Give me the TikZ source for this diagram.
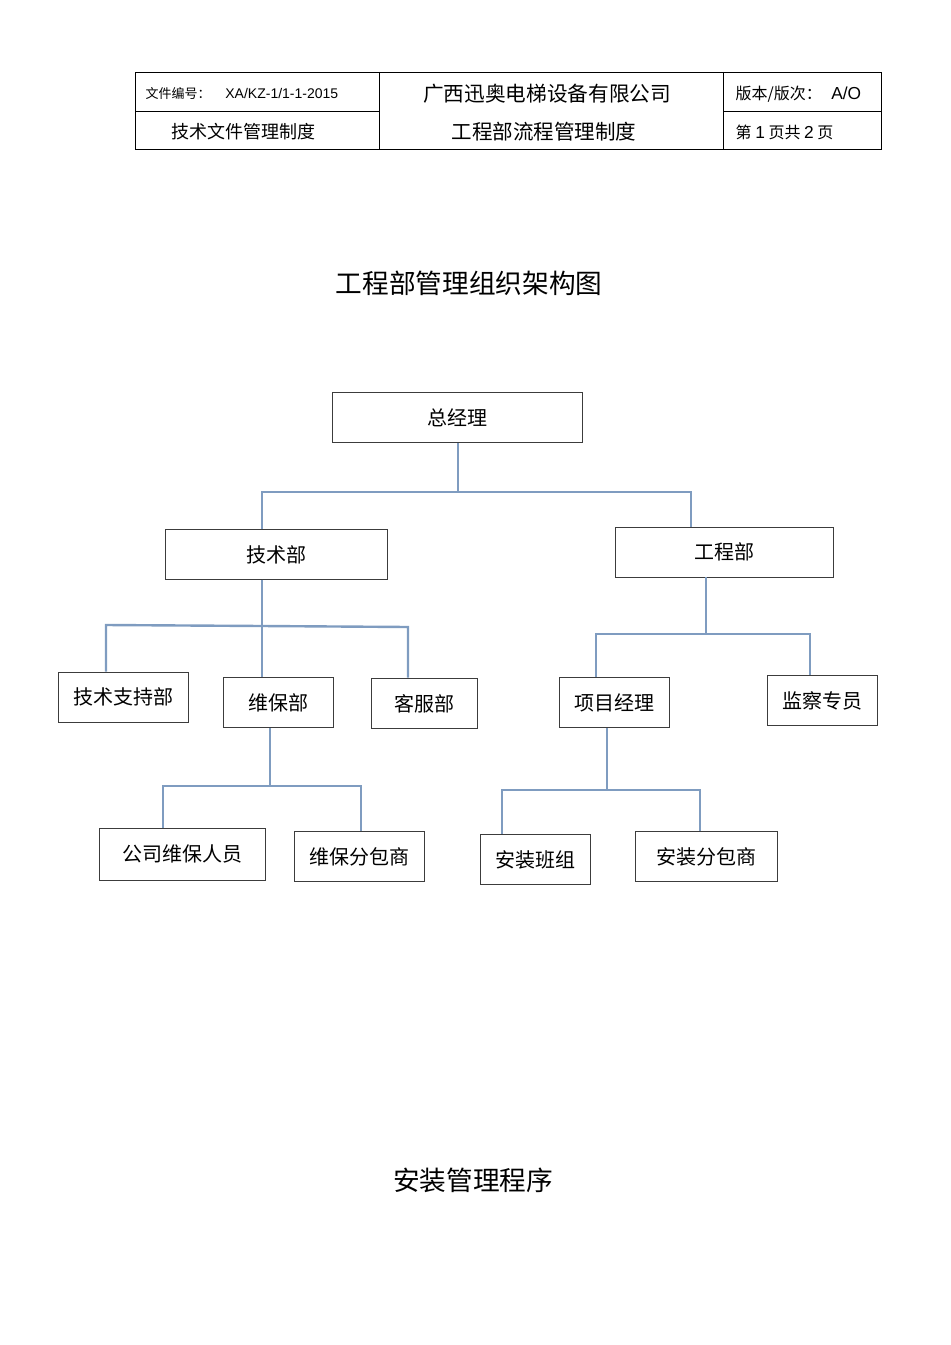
\documentclass[tikz,border=0pt]{standalone}
\usepackage{fontspec}
\setmainfont{Noto Sans CJK SC}
\newfontfamily\latinfont{Liberation Sans}
\usetikzlibrary{calc}
\definecolor{linkblue}{RGB}{127,156,192}
\definecolor{boxgray}{RGB}{60,60,60}
\tikzset{
  orgbox/.style={draw=boxgray, line width=0.7pt, inner sep=0pt, font=\fontsize{15}{18}\selectfont},
  link/.style={draw=linkblue, line width=1.8pt},
  frame/.style={black, line width=0.6pt}
}

\begin{document}
\begin{tikzpicture}[x=0.75pt,y=-0.75pt]
        \useasboundingbox (0,0) rectangle (950,1345);

        % header table
        \draw [frame] (135,72) rectangle (881,149);
        \draw [frame] (379,72) -- (379,149);
        \draw [frame] (723,72) -- (723,149);
        \draw [frame] (135,111) -- (379,111);
        \draw [frame] (723,111) -- (881,111);

        \node (docno) [anchor=west, font=\fontsize{9.75}{11}\selectfont] at (141,94) {文件编号：\hspace{11pt}{\latinfont\fontsize{10.5}{12}\selectfont XA/KZ-1/1-1-2015}};
        \node (techdoc) [font=\fontsize{13.5}{16}\selectfont] at (243,132) {技术文件管理制度};
        \node (company) [font=\fontsize{15.5}{18}\selectfont] at (547,94) {广西迅奥电梯设备有限公司};
        \node (deptdoc) [font=\fontsize{15.4}{18}\selectfont] at (544,132) {工程部流程管理制度};
        \node (version) [anchor=west, font=\fontsize{12}{14}\selectfont] at (731,94) {版本/版次：\hspace{7pt}{\latinfont\fontsize{13}{15}\selectfont A/O}};
        \node (pageno) [anchor=west, font=\fontsize{12}{14}\selectfont] at (731,132) {第 {\latinfont\fontsize{13}{15}\selectfont 1} 页共 {\latinfont\fontsize{13}{15}\selectfont 2} 页};

        % titles
        \node (title) [font=\fontsize{20}{24}\selectfont] at (469,283) {工程部管理组织架构图};
        \node (install) [font=\fontsize{20}{24}\selectfont] at (473,1180) {安装管理程序};

        % boxes
        \node (zjl)  [orgbox, minimum width=188pt, minimum height=38pt] at (457.5,417.5) {总经理};
        \node (jsb)  [orgbox, minimum width=166pt, minimum height=37pt] at (276.5,554.5) {技术部};
        \node (gcb)  [orgbox, minimum width=164pt, minimum height=37.5pt] at (724.5,552) {工程部};
        \node (jszc) [orgbox, minimum width=97.5pt, minimum height=37.5pt] at (123,697) {技术支持部};
        \node (wbb)  [orgbox, minimum width=83pt, minimum height=38pt] at (278.5,702.5) {维保部};
        \node (kfb)  [orgbox, minimum width=79.5pt, minimum height=38pt] at (424,703.5) {客服部};
        \node (xmjl) [orgbox, minimum width=83pt, minimum height=38pt] at (614.5,702.5) {项目经理};
        \node (jczy) [orgbox, minimum width=83pt, minimum height=38pt] at (822.5,700.5) {监察专员};
        \node (gswb) [orgbox, minimum width=124.5pt, minimum height=39pt] at (182,854) {公司维保人员};
        \node (wbfb) [orgbox, minimum width=97pt, minimum height=38pt] at (359.5,856.5) {维保分包商};
        \node (azbz) [orgbox, minimum width=82.5pt, minimum height=38pt] at (535,859.5) {安装班组};
        \node (azfb) [orgbox, minimum width=107pt, minimum height=38pt] at (706.5,856.5) {安装分包商};

        % two-child branches
        \foreach \p/\a/\b/\sx/\lx/\rx/\y in {zjl/jsb/gcb/458/262/691/492, gcb/xmjl/jczy/706/596/810/634, wbb/gswb/wbfb/270/163/361/786, xmjl/azbz/azfb/607/502/700/790} {
            \coordinate (s) at (\sx,\y);
            \coordinate (l) at (\lx,\y);
            \coordinate (r) at (\rx,\y);
            \draw [link] (\p.south -| s) -- (s);
            \draw [link] (\a.north -| l) -- (l) -- (r) -- (\b.north -| r);
        }

        % three-child branch
        \coordinate (s2) at (262,626);
        \coordinate (l2) at (106,625);
        \coordinate (r2) at (408,627);
        \draw [link] (jsb.south -| s2) -- (s2) -- (wbb.north -| s2);
        \draw [link] (jszc.north -| l2) -- (l2) -- (s2) -- (r2) -- (kfb.north -| r2);
\end{tikzpicture}
\end{document}
